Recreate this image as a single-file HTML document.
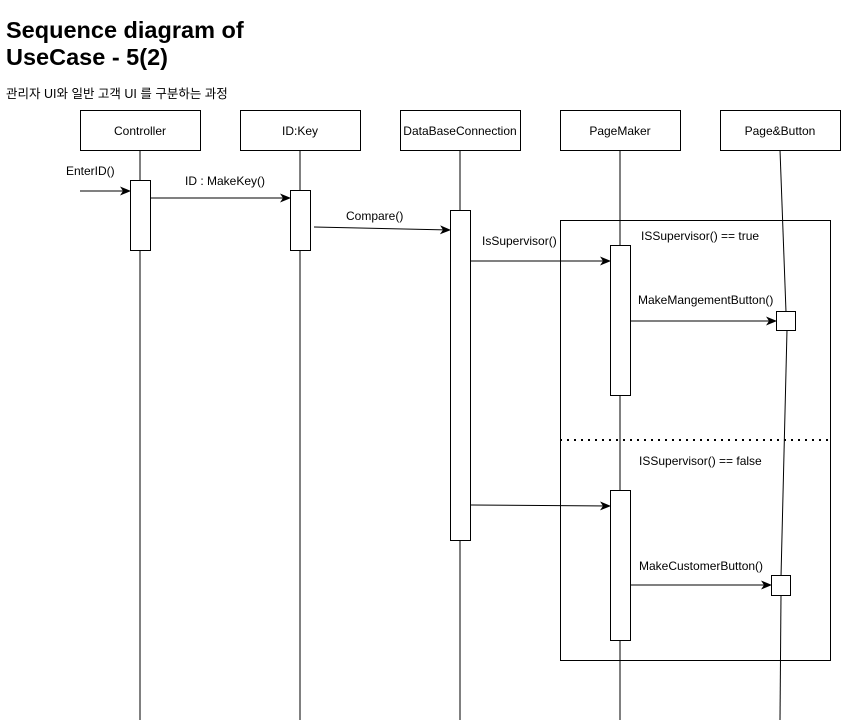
<!DOCTYPE html>
<html><head><meta charset="utf-8"><style>body{margin:0;background:#fff}svg{display:block}</style></head><body>
<svg width="841" height="722" xmlns="http://www.w3.org/2000/svg" font-family="Liberation Sans, Arial, sans-serif">
<defs><marker id="a" markerWidth="11" markerHeight="9" refX="10" refY="4.5" orient="auto" markerUnits="userSpaceOnUse"><path d="M0,0 L11,4.5 L0,9 L3,4.5 z" fill="#000"/></marker></defs>
<text x="6" y="38" font-size="23.5" font-weight="bold">Sequence diagram of</text>
<text x="6" y="65" font-size="23.5" font-weight="bold">UseCase - 5(2)</text>
<text x="6" y="98" font-size="12.5" font-family="Liberation Sans, Noto Sans CJK KR, sans-serif">관리자 UI와 일반 고객 UI 를 구분하는 과정</text>
<g stroke="#000" fill="none">
<line x1="140" y1="150" x2="140" y2="720"/>
<line x1="300" y1="150" x2="300" y2="720"/>
<line x1="460" y1="150" x2="460" y2="720"/>
<line x1="620" y1="150" x2="620" y2="720"/>
<polyline points="780,150 786,312"/>
<polyline points="787,330 781,577"/>
<polyline points="781,595 780,720"/>
<rect x="560.5" y="220.5" width="270" height="440" />
<line x1="560" y1="440" x2="830" y2="440" stroke-dasharray="2,5" stroke-width="2"/>
</g>
<g stroke="#000" fill="#fff">
<rect x="80.5" y="110.5" width="120" height="40"/>
<rect x="240.5" y="110.5" width="120" height="40"/>
<rect x="400.5" y="110.5" width="120" height="40"/>
<rect x="560.5" y="110.5" width="120" height="40"/>
<rect x="720.5" y="110.5" width="120" height="40"/>
<rect x="130.5" y="180.5" width="20" height="70"/>
<rect x="290.5" y="190.5" width="20" height="60"/>
<rect x="450.5" y="210.5" width="20" height="330"/>
<rect x="610.5" y="245.5" width="20" height="150"/>
<rect x="610.5" y="490.5" width="20" height="150"/>
<rect x="776.5" y="311.5" width="19" height="19"/>
<rect x="771.5" y="575.5" width="19" height="20"/>
</g>
<g font-size="12" text-anchor="middle">
<text x="140" y="135">Controller</text>
<text x="300" y="135">ID:Key</text>
<text x="460" y="135">DataBaseConnection</text>
<text x="620" y="135">PageMaker</text>
<text x="780" y="135">Page&amp;Button</text>
</g>
<g stroke="#000" marker-end="url(#a)">
<line x1="80" y1="191" x2="130" y2="191"/>
<line x1="151" y1="198" x2="290" y2="198"/>
<line x1="314" y1="227" x2="450" y2="230"/>
<line x1="471" y1="261" x2="610" y2="261"/>
<line x1="631" y1="321" x2="776" y2="321"/>
<line x1="471" y1="505" x2="610" y2="506"/>
<line x1="631" y1="585" x2="771" y2="585"/>
</g>
<g font-size="12">
<text x="66" y="175">EnterID()</text>
<text x="185" y="185">ID : MakeKey()</text>
<text x="346" y="220">Compare()</text>
<text x="482" y="245">IsSupervisor()</text>
<text x="641" y="240">ISSupervisor() == true</text>
<text x="638" y="304">MakeMangementButton()</text>
<text x="639" y="465">ISSupervisor() == false</text>
<text x="639" y="570">MakeCustomerButton()</text>
</g>
</svg>
</body></html>
